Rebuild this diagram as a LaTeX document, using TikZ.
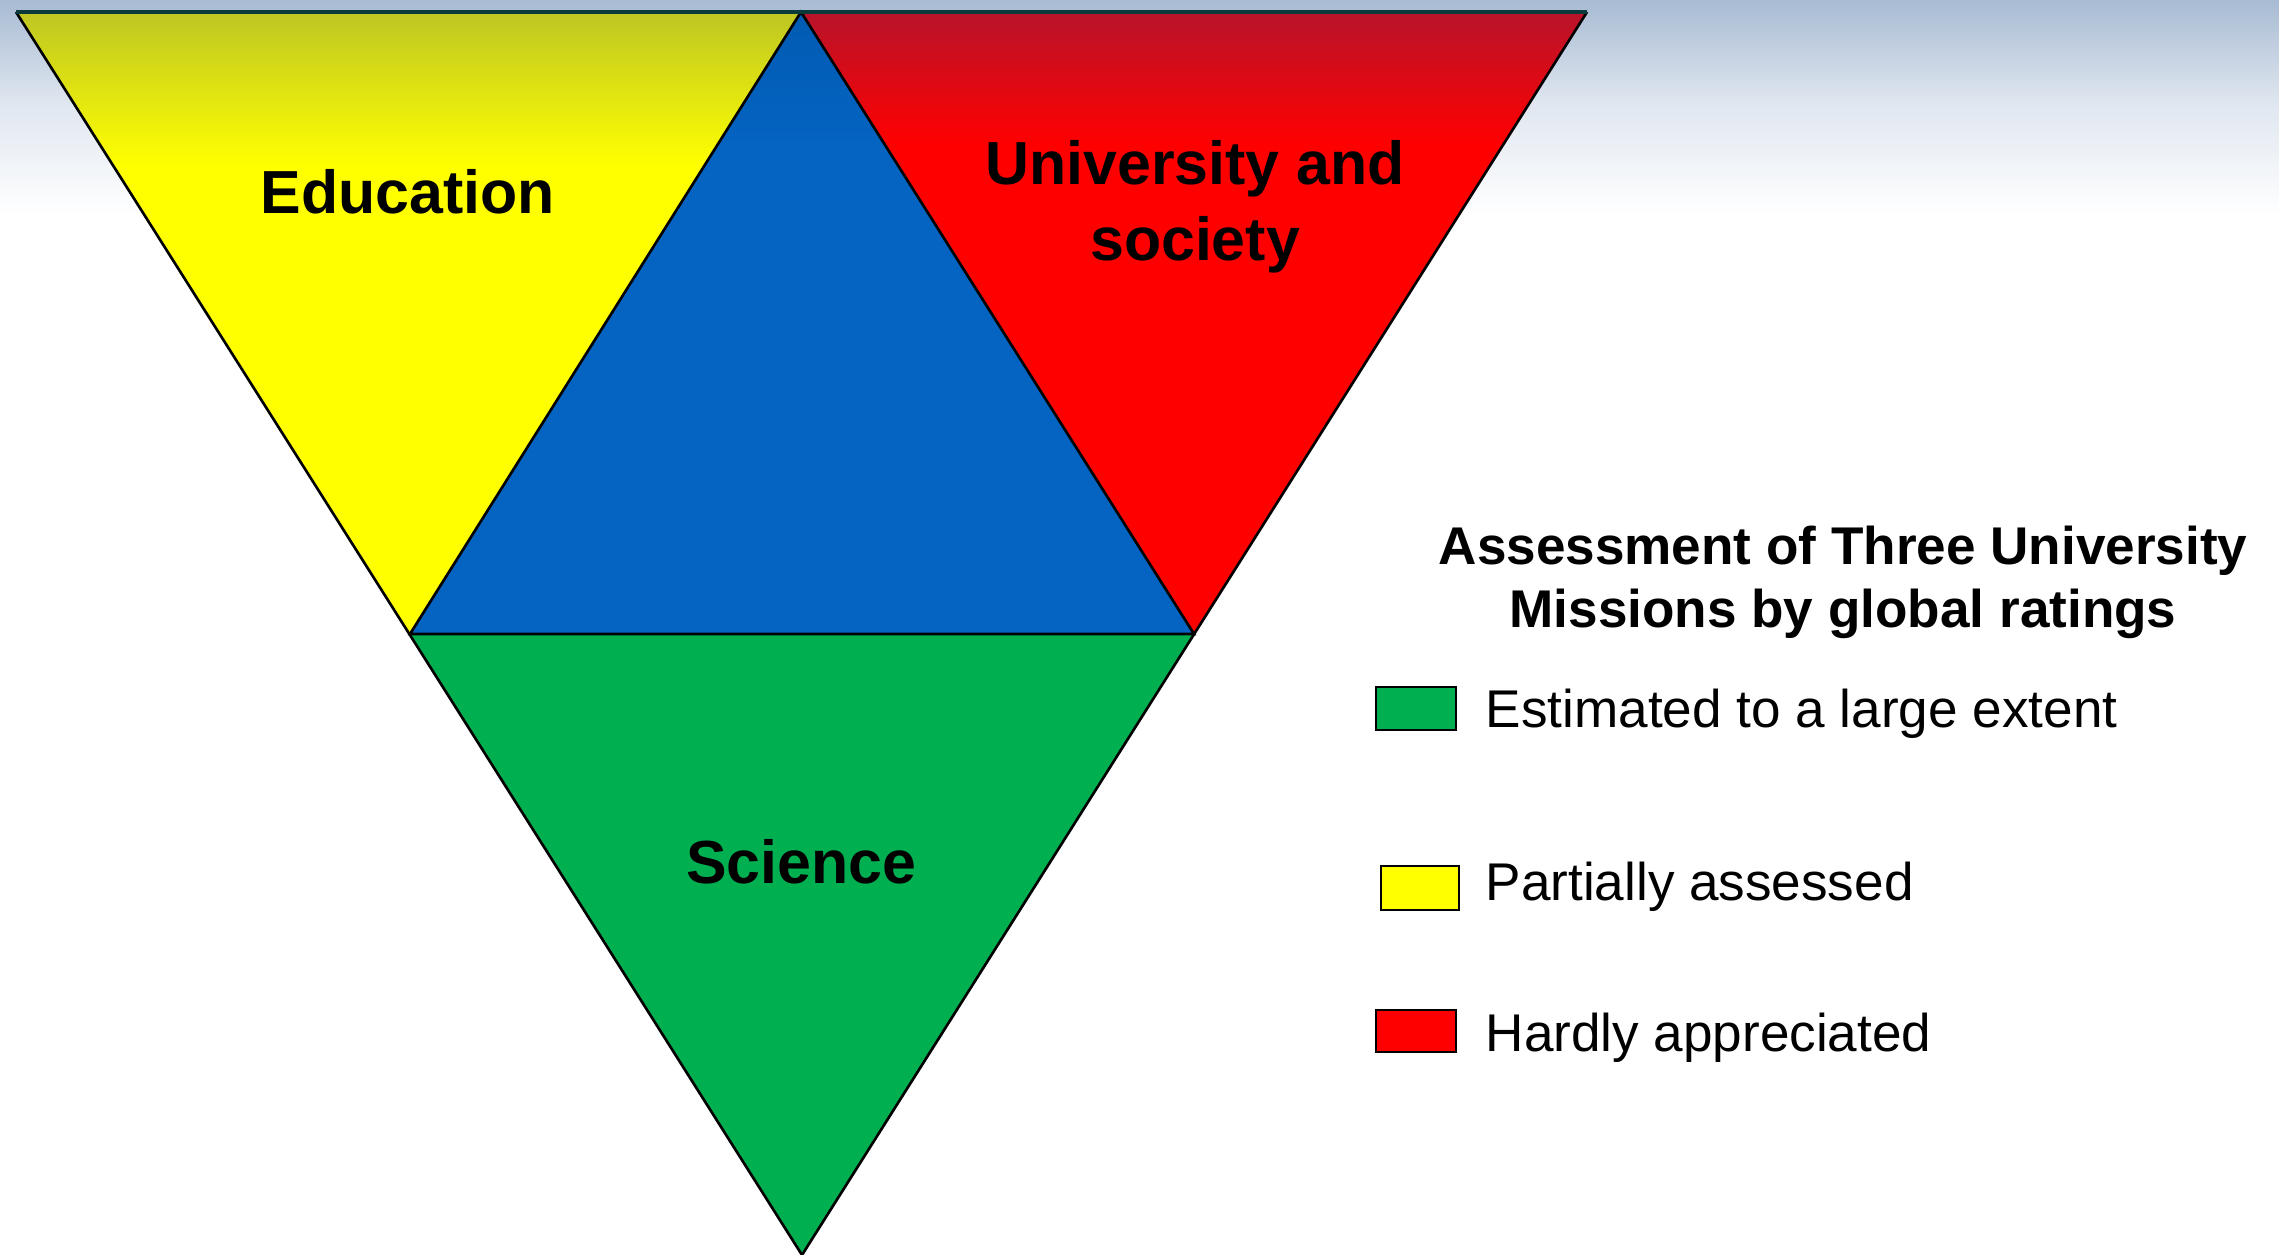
\documentclass[tikz,border=0pt]{standalone}
\usepackage{fontspec}
\setmainfont{Liberation Sans}
\definecolor{bgtop}{HTML}{A8BBD3}
\definecolor{bgmid}{HTML}{E0E7F0}
\definecolor{myyellow}{HTML}{FFFF00}
\definecolor{myyellowtop}{HTML}{BEC623}
\definecolor{myred}{HTML}{FF0000}
\definecolor{myredtop}{HTML}{B8142A}
\definecolor{myblue}{HTML}{0563C1}
\definecolor{mybluetop}{HTML}{005BB2}
\definecolor{mygreen}{HTML}{00B050}
\definecolor{topline}{HTML}{0A3B3A}
\begin{document}
\begin{tikzpicture}[x=0.01cm,y=0.01cm,
  edge/.style={draw=black,line width=0.75pt,line join=miter},
  biglabel/.style={font=\fontsize{17.3}{21.6}\selectfont\bfseries,align=center,text=black},
  titlelabel/.style={font=\fontsize{15.1}{17.9}\selectfont\bfseries,align=center,text=black},
  itemlabel/.style={font=\fontsize{15.1}{18}\selectfont,anchor=west,text=black,inner sep=0pt},
  legbox/.style={draw=black,line width=0.6pt,minimum width=0.8cm,minimum height=0.43cm,inner sep=0pt}]
\useasboundingbox (0,0) rectangle (2279,1255);
\fill[white] (0,0) rectangle (2279,1255);
\shade[top color=bgtop, bottom color=bgmid] (0,1150) rectangle (2279,1255);
\shade[top color=bgmid, bottom color=white] (0,1040) rectangle (2279,1150);
% vertices
\coordinate (A) at (16,1243);
\coordinate (M) at (801,1243);
\coordinate (B) at (1587,1243);
\coordinate (L) at (410,621);
\coordinate (R) at (1194,621);
\coordinate (C) at (802,0);
% yellow
\begin{scope}
\clip (A) -- (M) -- (L) -- cycle;
\fill[myyellow] (A) -- (M) -- (L) -- cycle;
\shade[top color=myyellowtop, bottom color=myyellow] (0,1090) rectangle (2279,1243);
\end{scope}
% red
\begin{scope}
\clip (M) -- (B) -- (R) -- cycle;
\fill[myred] (M) -- (B) -- (R) -- cycle;
\shade[top color=myredtop, bottom color=myred] (0,1110) rectangle (2279,1243);
\end{scope}
% blue
\begin{scope}
\clip (M) -- (R) -- (L) -- cycle;
\fill[myblue] (M) -- (R) -- (L) -- cycle;
\shade[top color=mybluetop, bottom color=myblue] (0,1110) rectangle (2279,1243);
\end{scope}
% green
\fill[mygreen] (L) -- (R) -- (C) -- cycle;
% edges
\draw[edge] (A) -- (C) -- (B);
\draw[edge] (M) -- (L) -- (R) -- cycle;
\draw[topline,line width=1.2pt] (A) -- (B);
% labels
\node[biglabel] (edu) at (408,1063) {Education};
\node[biglabel] (uas) at (1195,1048) {University and\\society};
\node[biglabel] (sci) at (801,393) {Science};
\node[titlelabel] (title) at (1843,673) {Assessment of Three University\\Missions by global ratings};
% legend
\node[legbox,fill=mygreen] (bg) at (1416,546.5) {};
\node[legbox,fill=myyellow,minimum width=0.78cm,minimum height=0.44cm] (by) at (1420,367) {};
\node[legbox,fill=myred,minimum height=0.42cm] (br) at (1416,224) {};
\node[itemlabel] (tg) at (1485,541) {Estimated to a large extent};
\node[itemlabel] (ty) at (1485,368) {Partially assessed};
\node[itemlabel] (tr) at (1485,217) {Hardly appreciated};
\end{tikzpicture}
\end{document}
